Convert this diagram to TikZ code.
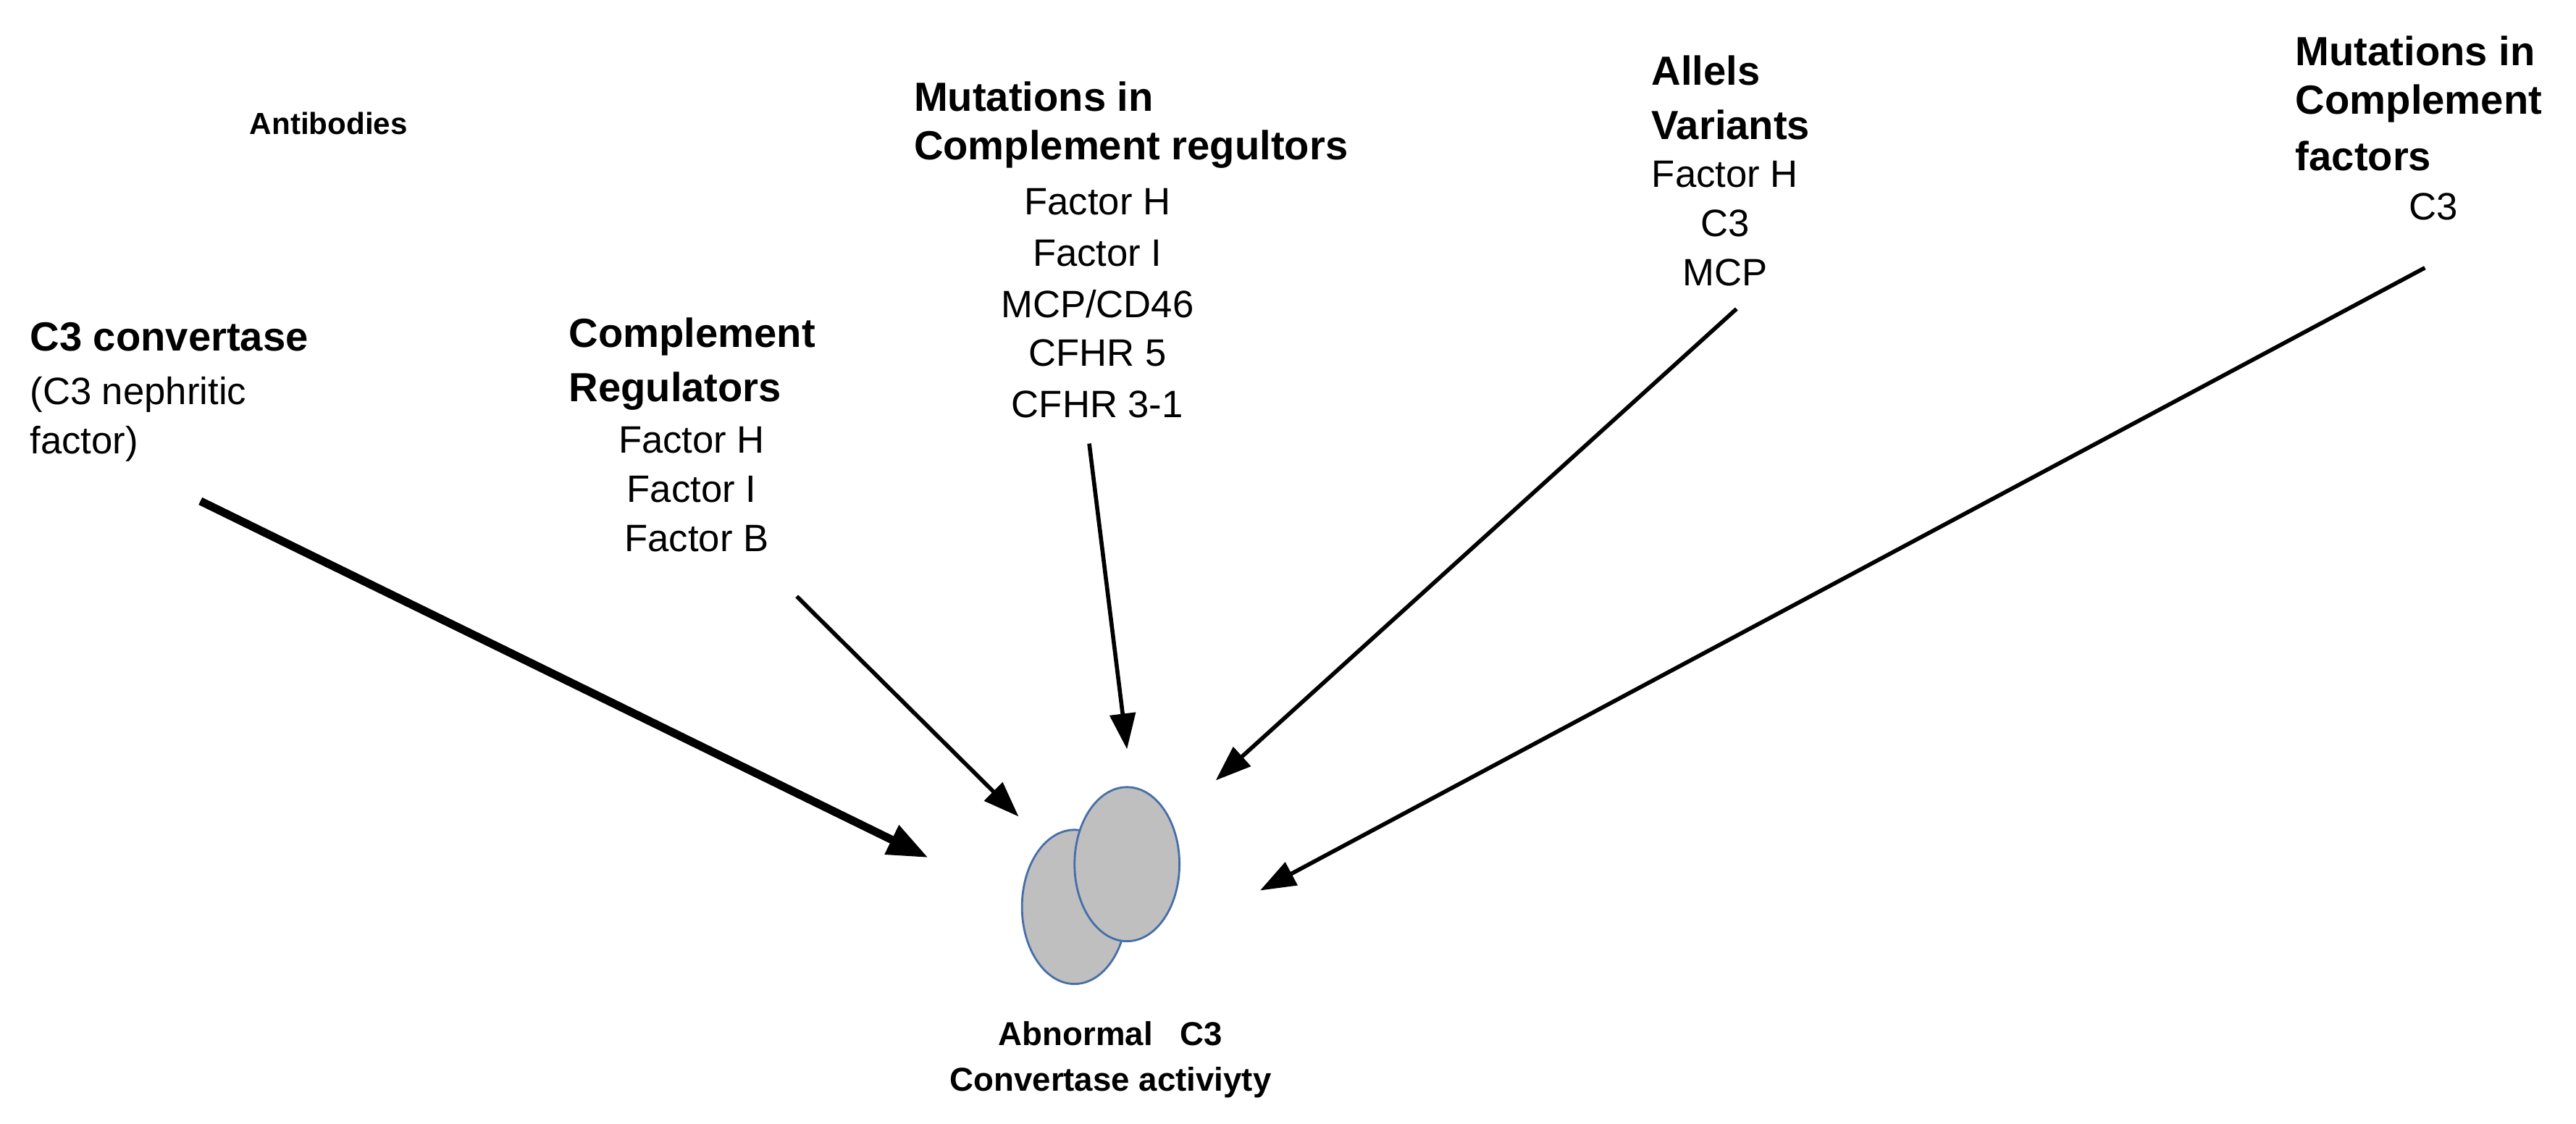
\documentclass[tikz,border=0pt]{standalone}
\usepackage{fontspec}
\setmainfont{Liberation Sans}
\usetikzlibrary{arrows.meta,shapes.geometric}
\definecolor{edge}{RGB}{70,110,170}
\begin{document}
\begin{tikzpicture}[x=0.0227cm,y=-0.0227cm,
  hd/.style={font=\fontsize{16}{19}\selectfont\bfseries,inner sep=0pt},
  tx/.style={font=\fontsize{15}{18}\selectfont,inner sep=0pt},
  sm/.style={font=\fontsize{12}{14}\selectfont\bfseries,inner sep=0pt},
  ar/.style={-{Triangle[length=14pt,width=10pt]},line width=1.6pt},
  cell/.style={ellipse,fill=gray!50,draw=edge,line width=0.8pt,minimum width=1.45cm,minimum height=2.13cm,inner sep=0pt}]
\useasboundingbox (0,0) rectangle (1568,684);
\node[sm] (ab) at (200,75) {Antibodies};
\node[hd,anchor=west] (c3a) at (18,205) {C3 convertase};
\node[tx,anchor=west] (c3b) at (18,240) {(C3 nephritic};
\node[tx,anchor=west] (c3c) at (18,270) {factor)};
\node[hd,anchor=west] (cra) at (346,205) {Complement};
\node[hd,anchor=west] (crb) at (346,238) {Regulators};
\node[tx] (cr1) at (421,268) {Factor H};
\node[tx] (cr2) at (421,298) {Factor I};
\node[tx] (cr3) at (424,328) {Factor B};
\node[hd,anchor=west] (ma) at (556,59) {Mutations in};
\node[hd,anchor=west] (mb) at (556,91) {Complement regultors};
\node[tx] (m1) at (668,123) {Factor H};
\node[tx] (m2) at (668,154) {Factor I};
\node[tx] (m3) at (668,185) {MCP/CD46};
\node[tx] (m4) at (668,215) {CFHR 5};
\node[tx] (m5) at (668,246) {CFHR 3-1};
\node[hd,anchor=west] (va) at (1005,43) {Allels};
\node[hd,anchor=west] (vb) at (1005,76) {Variants};
\node[tx] (v1) at (1050,106) {Factor H};
\node[tx] (v2) at (1050,136) {C3};
\node[tx] (v3) at (1050,166) {MCP};
\node[hd,anchor=west] (fa) at (1397,31) {Mutations in};
\node[hd,anchor=west] (fb) at (1397,63) {Complement};
\node[hd,anchor=west] (fc) at (1397,95) {factors};
\node[tx] (f1) at (1481,126) {C3};
\node[cell] (e1) at (654,552) {};
\node[cell] (e2) at (686,526) {};
\node[sm,font=\fontsize{13}{15}\selectfont\bfseries] (la) at (676,629) {Abnormal\ \ \ C3};
\node[sm,font=\fontsize{13}{15}\selectfont\bfseries] (lb) at (676,659) {Convertase activiyty};
\coordinate (s1) at (122,305); \coordinate (t1) at (565,522);
\coordinate (s2) at (485,363); \coordinate (t2) at (620,497);
\coordinate (s3) at (663,270); \coordinate (t3) at (686,456);
\coordinate (s4) at (1057,188); \coordinate (t4) at (740,475);
\coordinate (s5) at (1476,163); \coordinate (t5) at (767,542);
\draw[ar,line width=3.2pt,-{Triangle[length=16pt,width=12pt]}] (s1) -- (t1);
\draw[ar] (s2) -- (t2);
\draw[ar] (s3) -- (t3);
\draw[ar] (s4) -- (t4);
\draw[ar] (s5) -- (t5);
\end{tikzpicture}
\end{document}
